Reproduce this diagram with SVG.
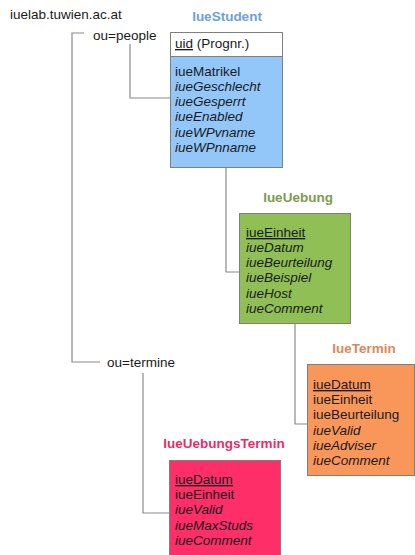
<svg xmlns="http://www.w3.org/2000/svg" width="415" height="555" viewBox="0 0 415 555">
<style>
text{font-family:"Liberation Sans",Arial,sans-serif;font-size:13.5px;fill:#1a1a1a}
.t{font-weight:bold;text-anchor:middle}
.i{font-style:italic}
.u{text-decoration:underline}
.box{stroke:#7f7f7f;stroke-width:1}
.c{fill:none;stroke:#8a8a8a;stroke-width:1.2}
</style>
<rect width="415" height="555" fill="#ffffff"/>
<g id="connectors">
<path class="c" d="M84,33H72V362H100"/>
<path class="c" d="M130,44V98H170"/>
<path class="c" d="M226,167V272H240"/>
<path class="c" d="M295,323V424H307"/>
<path class="c" d="M143,373V513H169"/>
</g>
<g id="root"><text x="10" y="19">iuelab.tuwien.ac.at</text></g>
<g id="ou-people"><text x="93" y="40">ou=people</text></g>
<g id="ou-termine"><text x="107" y="367">ou=termine</text></g>
<g id="IueStudent">
<text class="t" x="227" y="21" style="fill:#6d9fdc">IueStudent</text>
<rect class="box" x="170.5" y="32.5" width="112" height="24" fill="#ffffff"/>
<rect class="box" x="170.5" y="56.5" width="112" height="111" fill="#93c7fa"/>
<text x="175" y="48"><tspan class="u">uid</tspan> (Prognr.)</text>
<text x="175" y="76">iueMatrikel</text>
<text class="i" x="175" y="91">iueGeschlecht</text>
<text class="i" x="175" y="106">iueGesperrt</text>
<text class="i" x="175" y="121">iueEnabled</text>
<text class="i" x="175" y="137">iueWPvname</text>
<text class="i" x="175" y="152">iueWPnname</text>
</g>
<g id="IueUebung">
<text class="t" x="298" y="202" style="fill:#7c9b4e">IueUebung</text>
<rect class="box" x="239.5" y="213.5" width="111" height="110" fill="#8fbf55"/>
<text class="u" x="246" y="237">iueEinheit</text>
<text class="i" x="246" y="252">iueDatum</text>
<text class="i" x="246" y="267">iueBeurteilung</text>
<text class="i" x="246" y="282">iueBeispiel</text>
<text class="i" x="246" y="298">iueHost</text>
<text class="i" x="246" y="313">iueComment</text>
</g>
<g id="IueTermin">
<text class="t" x="364" y="353" style="fill:#e0875a">IueTermin</text>
<rect class="box" x="307.5" y="364.5" width="107" height="111" fill="#f9975b"/>
<text class="u" x="313" y="389">iueDatum</text>
<text x="313" y="404">iueEinheit</text>
<text x="313" y="419">iueBeurteilung</text>
<text class="i" x="313" y="435">iueValid</text>
<text class="i" x="313" y="450">iueAdviser</text>
<text class="i" x="313" y="465">iueComment</text>
</g>
<g id="IueUebungsTermin">
<text class="t" x="224" y="448" style="fill:#e0306b">IueUebungsTermin</text>
<rect class="box" x="169.5" y="460.5" width="111" height="100" fill="#fd2e68"/>
<text class="u" x="175" y="484">iueDatum</text>
<text x="175" y="499">iueEinheit</text>
<text class="i" x="175" y="514">iueValid</text>
<text class="i" x="175" y="530">iueMaxStuds</text>
<text class="i" x="175" y="545">iueComment</text>
</g>
</svg>
